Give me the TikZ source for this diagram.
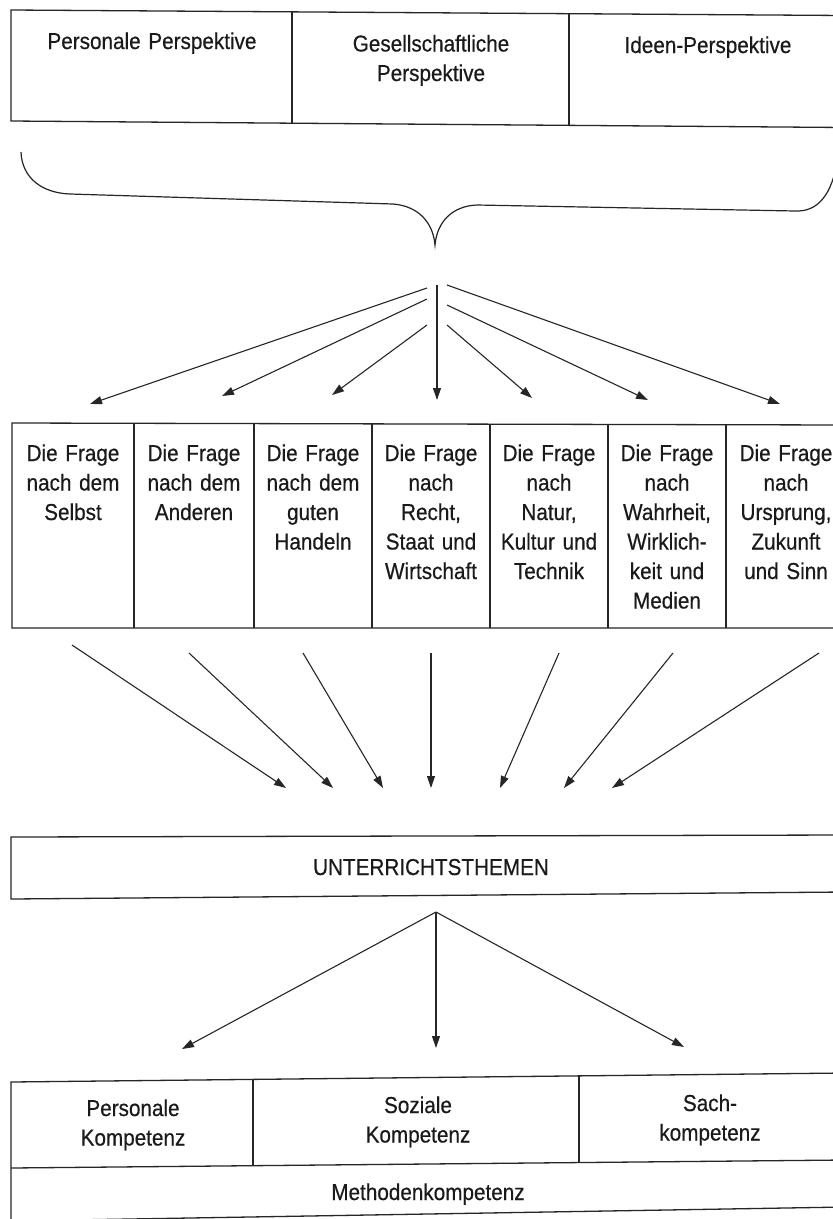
\documentclass[tikz,border=0pt]{standalone}
\usepackage{fontspec}
\setmainfont{Liberation Sans}[FakeStretch=0.9, FakeBold=0.5]
\usetikzlibrary{arrows.meta}
\definecolor{ink}{HTML}{262626}
\definecolor{txt}{HTML}{1A1A1A}
\tikzset{
  frame/.style={draw=ink, line width=1.3pt, line join=miter},
  conn/.style={draw=ink, line width=1.1pt, -{Triangle[length=12pt,width=8pt]}},
  lbl/.style={text=txt, font=\fontsize{23}{29.5}\selectfont, align=center, text width=118pt, anchor=base, inner sep=0pt},
}
\begin{document}
\begin{tikzpicture}[x=1pt,y=-1pt]
\useasboundingbox (0,0) rectangle (833,1219);
\fill[white] (0,0) rectangle (833,1219);

% ---------- top box ----------
\draw[frame] (11,10) -- (845,15.5) -- (845,127.5) -- (11,121) -- cycle;
\draw[frame] (292,11.7) -- (292,123);
\draw[frame] (569,13.4) -- (569,125);
\node[lbl, text width=260pt] (pp) at (152,49) {Personale Perspektive};
\node[lbl, text width=260pt] (gp) at (431,51.5) {Gesellschaftliche\\Perspektive};
\node[lbl, text width=260pt] (ip) at (708,53) {Ideen-Perspektive};

% ---------- brace ----------
\draw[draw=ink, line width=1.2pt]
  (21,152) .. controls (22,178) and (42,193) .. (70,194)
  -- (393,204) .. controls (418,206) and (433,222) .. (435,245)
  .. controls (437,222) and (452,206) .. (477,205)
  -- (795,211) .. controls (818,212) and (832,195) .. (838,158);

% ---------- fan 1 ----------
\coordinate (a1) at (427,288); \coordinate (b1) at (90,404);
\coordinate (a2) at (427,299); \coordinate (b2) at (222,396);
\coordinate (a3) at (427,325); \coordinate (b3) at (332,395);
\coordinate (a4) at (437,285); \coordinate (b4) at (437,400);
\coordinate (a5) at (447,325); \coordinate (b5) at (532,398);
\coordinate (a6) at (447,305); \coordinate (b6) at (648,400);
\coordinate (a7) at (447,285); \coordinate (b7) at (780,404);
\foreach \i in {1,...,7} { \draw[conn] (a\i) -- (b\i); }

% ---------- Frage box ----------
\draw[frame] (12,423) -- (846,425) -- (846,628) -- (12,628) -- cycle;
\foreach \x in {134,254,372,490,608,726} { \draw[frame] (\x,424) -- (\x,628); }
\node[lbl] (f1) at (73,461) {Die Frage\\nach dem\\Selbst};
\node[lbl] (f2) at (194,461) {Die Frage\\nach dem\\Anderen};
\node[lbl] (f3) at (313,461) {Die Frage\\nach dem\\guten\\Handeln};
\node[lbl] (f4) at (431,461) {Die Frage\\nach\\Recht,\\Staat und\\Wirtschaft};
\node[lbl] (f5) at (549,461) {Die Frage\\nach\\Natur,\\Kultur und\\Technik};
\node[lbl] (f6) at (667,461) {Die Frage\\nach\\Wahrheit,\\Wirklich-\\keit und\\Medien};
\node[lbl] (f7) at (786,461) {Die Frage\\nach\\Ursprung,\\Zukunft\\und Sinn};

% ---------- fan 2 ----------
\coordinate (c1) at (72,645);  \coordinate (d1) at (286,788);
\coordinate (c2) at (189,653); \coordinate (d2) at (333,788);
\coordinate (c3) at (303,653); \coordinate (d3) at (383,788);
\coordinate (c4) at (431,653); \coordinate (d4) at (431,788);
\coordinate (c5) at (559,653); \coordinate (d5) at (500,788);
\coordinate (c6) at (673,653); \coordinate (d6) at (564,788);
\coordinate (c7) at (819,653); \coordinate (d7) at (612,788);
\foreach \i in {1,...,7} { \draw[conn] (c\i) -- (d\i); }

% ---------- Unterrichtsthemen ----------
\draw[frame] (11,837) -- (845,835) -- (845,892) -- (11,899) -- cycle;
\node[lbl, text width=400pt] (ut) at (431,875) {UNTERRICHTSTHEMEN};

% ---------- fan 3 ----------
\coordinate (ap) at (436,912);
\coordinate (g1) at (182,1049);
\coordinate (g2) at (436,1048);
\coordinate (g3) at (684,1047);
\foreach \i in {1,2,3} { \draw[conn] (ap) -- (g\i); }

% ---------- bottom box ----------
\draw[frame] (11,1082) -- (845,1073) -- (845,1207) -- (11,1221) -- cycle;
\draw[frame] (11,1168) -- (845,1160);
\draw[frame] (253,1079.4) -- (253,1165.7);
\draw[frame] (579,1075.9) -- (579,1162.6);
\node[lbl, text width=220pt] (pk) at (133,1116) {Personale\\Kompetenz};
\node[lbl, text width=300pt] (sk) at (418,1113) {Soziale\\Kompetenz};
\node[lbl, text width=240pt] (sa) at (710,1111) {Sach-\\kompetenz};
\node[lbl, text width=400pt] (mk) at (428,1200) {Methodenkompetenz};
\end{tikzpicture}
\end{document}
